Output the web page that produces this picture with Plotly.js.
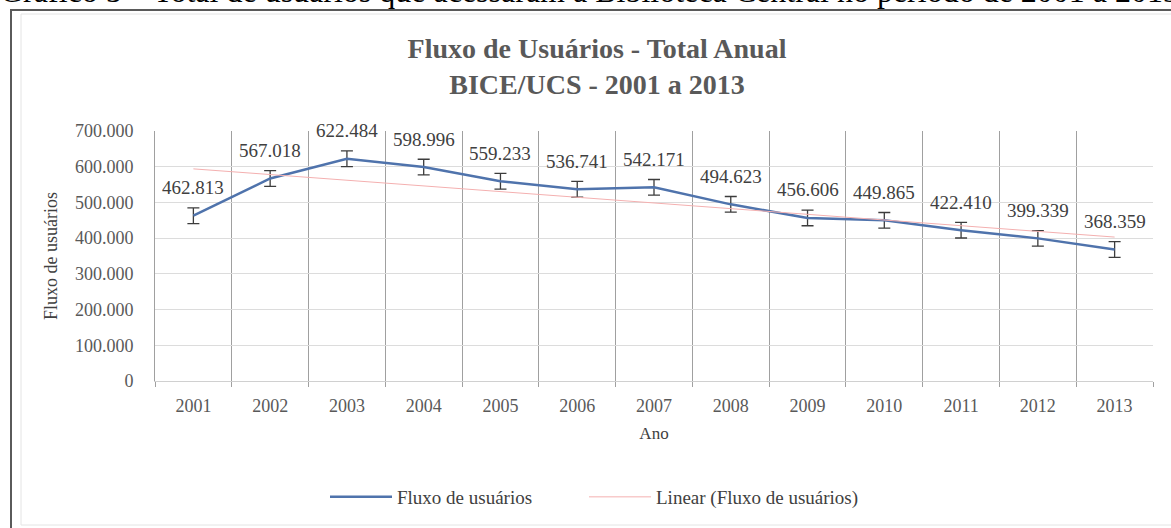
<!DOCTYPE html>
<html>
<head>
<meta charset="utf-8">
<script src="https://cdn.plot.ly/plotly-3.0.1.min.js"></script>
<style>
  html, body { margin: 0; padding: 0; background: #ffffff; overflow: hidden; }
  #chart { width: 1171px; height: 528px; }
</style>
</head>
<body>
<div id="chart"></div>
<script>
// ---- data ----
const years = ['2001','2002','2003','2004','2005','2006','2007','2008','2009','2010','2011','2012','2013'];
const fluxo = [462813, 567018, 622484, 598996, 559233, 536741, 542171, 494623, 456606, 449865, 422410, 399339, 368359];
const erro = 21966;                       // standard-error bars (constant)
const trendYears = ['2001', '2013'];      // linear trend end points
const trendValues = [594000, 403000];
const yTicks = [0, 100000, 200000, 300000, 400000, 500000, 600000, 700000];

const captionText = 'Gráfico 5 – Total de usuários que acessaram a Biblioteca Central no período de 2001 a 2013';
const titleText = 'Fluxo de Usuários - Total Anual<br>BICE/UCS - 2001 a 2013';
const yTitle = 'Fluxo de usuários';
const xTitle = 'Ano';
const serieName = 'Fluxo de usuários';
const trendName = 'Linear (Fluxo de usuários)';

// ---- helpers ----
const SERIF = '"Liberation Serif", "Times New Roman", serif';
function fmt(v) { return String(Math.round(v)).replace(/\B(?=(\d{3})+(?!\d))/g, '.'); }

// plot area in pixels
const L = 155, R = 1153, T = 131, B = 381, W = 1171, H = 528;
const px = x => (x - L) / (R - L);
const py = y => (B - y) / (B - T);

const traces = [
  {
    x: years, y: fluxo, type: 'scatter', mode: 'lines', name: serieName, legend: 'legend',
    line: { color: '#4F73AC', width: 2.5 },
    error_y: { type: 'constant', value: erro, visible: true, color: '#3c3c3c', thickness: 1.3, width: 6 }
  },
  {
    x: trendYears, y: trendValues, type: 'scatter', mode: 'lines', name: trendName, legend: 'legend2',
    line: { color: '#F4B0B0', width: 1 }
  }
];

// data labels: category axis -> use category index as annotation x
const annotations = years.map((yr, i) => ({
  x: years.indexOf(yr), y: fluxo[i], xref: 'x', yref: 'y', text: fmt(fluxo[i]),
  showarrow: false, yshift: 28, xanchor: 'center', yanchor: 'middle',
  font: { family: SERIF, size: 19, color: '#404040' }
}));

annotations.push({
  xref: 'paper', yref: 'paper', x: px(-2), y: py(-9), xanchor: 'left', yanchor: 'middle',
  text: captionText, showarrow: false,
  font: { family: SERIF, size: 32, color: '#000000' }
});

const legendFont = { family: SERIF, size: 19, color: '#404040' };

const layout = {
  width: W, height: H,
  margin: { l: L, r: W - R, t: T, b: H - B, pad: 0 },
  paper_bgcolor: '#ffffff', plot_bgcolor: '#ffffff',
  separators: ',.',
  font: { family: SERIF, color: '#595959' },
  title: {
    text: titleText, xref: 'container', yref: 'container',
    x: 597 / W, xanchor: 'center', y: 1 - 58 / H, yanchor: 'middle',
    font: { family: SERIF, size: 28, color: '#595959', weight: 'bold' }
  },
  xaxis: {
    type: 'category', range: [-0.5, 12.5], tickson: 'boundaries',
    showgrid: true, gridcolor: '#a0a0a0', gridwidth: 1,
    ticks: 'outside', ticklen: 5, tickcolor: '#a0a0a0',
    showline: true, linecolor: '#d0d0d0', linewidth: 1,
    tickfont: { family: SERIF, size: 18, color: '#595959' },
    ticklabelstandoff: 8,
    title: { text: xTitle, standoff: 12, font: { family: SERIF, size: 17, color: '#404040' } },
    fixedrange: true
  },
  yaxis: {
    range: [0, 700000], tickvals: yTicks, tickformat: ',d',
    showgrid: true, gridcolor: '#dcdcdc', gridwidth: 1, zeroline: false,
    showline: true, linecolor: '#a0a0a0', linewidth: 1,
    ticks: '', ticklabelstandoff: 17,
    tickfont: { family: SERIF, size: 18, color: '#595959' },
    title: { text: yTitle, standoff: 12, font: { family: SERIF, size: 18, color: '#404040' } },
    fixedrange: true
  },
  showlegend: true,
  legend: {
    orientation: 'h', x: px(325), xanchor: 'left', y: py(497), yanchor: 'middle',
    font: legendFont, itemwidth: 62, bgcolor: 'rgba(0,0,0,0)'
  },
  legend2: {
    orientation: 'h', x: px(584), xanchor: 'left', y: py(497), yanchor: 'middle',
    font: legendFont, itemwidth: 62, bgcolor: 'rgba(0,0,0,0)'
  },
  shapes: [
    { type: 'rect', xref: 'paper', yref: 'paper', x0: px(21), x1: px(1190), y0: py(525), y1: py(14),
      line: { color: '#e4e4e4', width: 1 }, layer: 'below' },
    { type: 'line', xref: 'paper', yref: 'paper', x0: px(11), x1: px(11), y0: py(540), y1: py(10),
      line: { color: '#5a5a5a', width: 2 } },
    { type: 'line', xref: 'paper', yref: 'paper', x0: px(10), x1: px(1190), y0: py(10), y1: py(10),
      line: { color: '#5a5a5a', width: 2 } }
  ],
  annotations: annotations
};

Plotly.newPlot('chart', traces, layout, { displayModeBar: false, staticPlot: true });
</script>
</body>
</html>
